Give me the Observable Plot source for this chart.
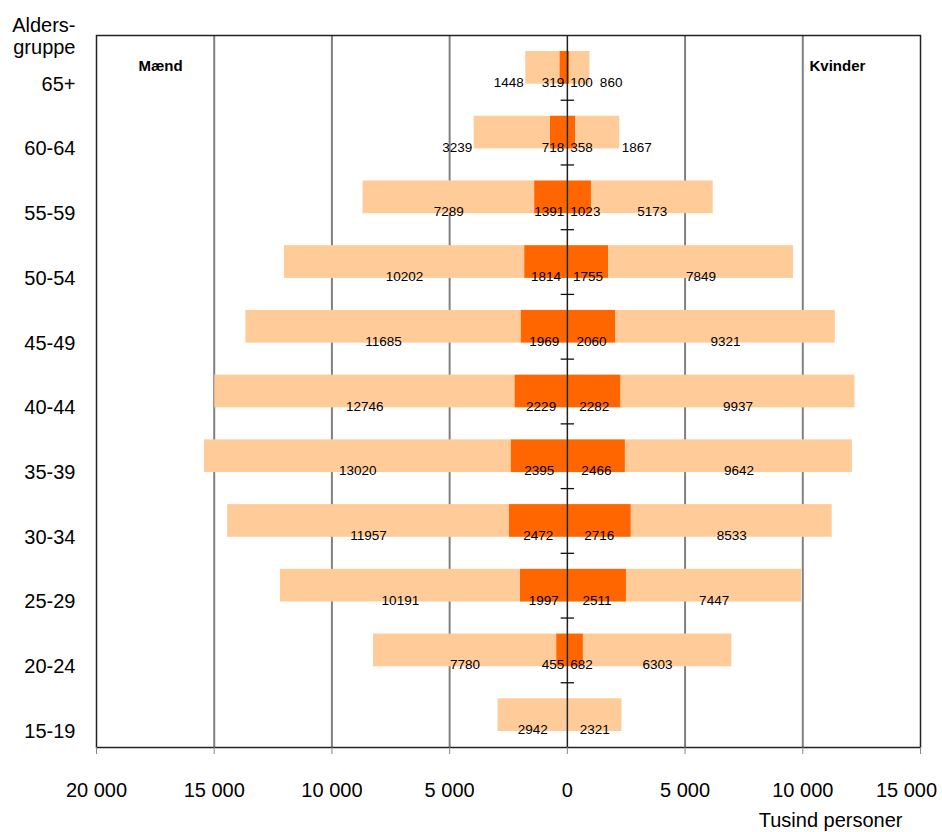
<!DOCTYPE html>
<html>
<head>
<meta charset="utf-8">
<script src="https://cdn.jsdelivr.net/npm/d3@7"></script>
<script src="https://cdn.jsdelivr.net/npm/@observablehq/plot@0.6"></script>
<style>
  body { margin: 0; background: #fff; }
  #chart svg { display: block; }
</style>
</head>
<body>
<div id="chart"></div>
<script>
// ---- data ----
const ages = ["65+", "60-64", "55-59", "50-54", "45-49", "40-44", "35-39", "30-34", "25-29", "20-24", "15-19"];
const menInner   = [319, 718, 1391, 1814, 1969, 2229, 2395, 2472, 1997, 455, 0];
const menOuter   = [1448, 3239, 7289, 10202, 11685, 12746, 13020, 11957, 10191, 7780, 2942];
const womenInner = [100, 358, 1023, 1755, 2060, 2282, 2466, 2716, 2511, 682, 0];
const womenOuter = [860, 1867, 5173, 7849, 9321, 9937, 9642, 8533, 7447, 6303, 2321];
const xTicks = [-20000, -15000, -10000, -5000, 0, 5000, 10000, 15000];
const gridValues = [-15000, -10000, -5000, 5000, 10000];

// ---- layout ----
const W = 942, H = 832, mT = 35, mB = 85, mL = 96, mR = 22;
const xDomain = [-20000, 15000];
const k = (W - mL - mR) / (xDomain[1] - xDomain[0]); // px per unit
const labelFont = 13.5;
const textW = v => String(v).length * 0.556 * labelFont;
const halfBand = (H - mT - mB) / ages.length / 2;

const bars = [];
const labels = [];
ages.forEach((age, i) => {
  [[-1, menInner[i], menOuter[i]], [1, womenInner[i], womenOuter[i]]].forEach(([s, inner, outer]) => {
    if (inner > 0) bars.push({age, x1: 0, x2: s * inner, part: "inner"});
    bars.push({age, x1: s * inner, x2: s * (inner + outer), part: "outer"});
    let edge = 0;
    if (inner > 0) {
      const w = textW(inner);
      const c = Math.max(inner * k / 2, 3 + w / 2);
      labels.push({age, x: s * c / k, text: String(inner)});
      edge = c + w / 2;
    }
    const w = textW(outer);
    let c;
    if (inner > 0 && outer < 4000) {
      const start = Math.max((inner + outer) * k + 2, edge + 7);
      c = start + w / 2;
    } else {
      c = (inner + outer / 2) * k;
    }
    labels.push({age, x: s * c / k, text: String(outer)});
  });
});

const fmt = d => Math.abs(d).toString().replace(/\B(?=(\d{3})+(?!\d))/g, " ");
const lastTick = xTicks[xTicks.length - 1];
const hline = {draw(ctx) { ctx.moveTo(-6.7, 0); ctx.lineTo(6.7, 0); }};

const chart = Plot.plot({
  width: W, height: H,
  marginTop: mT, marginBottom: mB, marginLeft: mL, marginRight: mR,
  style: {fontFamily: "'Liberation Sans', Arial, sans-serif", fontSize: "13.5px", color: "#000", background: "#fff"},
  x: {domain: xDomain},
  y: {domain: ages, padding: 0, round: false},
  color: {domain: ["inner", "outer"], range: ["#FF6600", "#FFCC99"]},
  marks: [
    Plot.ruleX(gridValues, {stroke: "#808080", strokeWidth: 2}),
    Plot.barX(bars, {y: "age", x1: "x1", x2: "x2", fill: "part", insetTop: 16, insetBottom: 16}),
    Plot.ruleX([0], {stroke: "#222", strokeWidth: 1.5}),
    Plot.dot(ages.slice(0, -1), {x: 0, y: d => d, dy: halfBand, symbol: hline, r: 5, fill: "none", stroke: "#111", strokeWidth: 1.3}),
    Plot.text(labels, {x: "x", y: "age", text: "text", dy: 19, lineAnchor: "bottom", fontSize: labelFont, fill: "#000"}),
    Plot.frame({stroke: "#222", strokeWidth: 1.5}),
    Plot.axisX({ticks: xTicks, tickFormat: d => d === lastTick ? "" : fmt(d), tickSize: 7, tickPadding: 28.5, fontSize: 20, stroke: "#888", fill: "#000", label: null}),
    Plot.text([lastTick], {x: d => d, text: fmt, frameAnchor: "bottom", textAnchor: "middle", lineAnchor: "bottom", dx: -14, dy: 49.7, fontSize: 20, fill: "#000"}),
    Plot.axisY({tickSize: 0, tickPadding: 21, dy: 16.4, fontSize: 20, fill: "#000", label: null}),
    Plot.text(["Alders-\ngruppe"], {text: d => d, frameAnchor: "top-left", textAnchor: "end", lineAnchor: "bottom", lineHeight: 1.08, dx: -21, dy: 18.3, fontSize: 20, fill: "#000"}),
    Plot.text(["Tusind personer"], {text: d => d, frameAnchor: "bottom-right", textAnchor: "end", lineAnchor: "bottom", dx: -18, dy: 79.7, fontSize: 20, fill: "#000"}),
    Plot.text(["Mænd"], {text: d => d, frameAnchor: "top-left", textAnchor: "start", lineAnchor: "bottom", dx: 42, dy: 35.7, fontSize: 15, fontWeight: "bold", fill: "#000"}),
    Plot.text(["Kvinder"], {text: d => d, frameAnchor: "top-right", textAnchor: "start", lineAnchor: "bottom", dx: -111, dy: 35, fontSize: 15, fontWeight: "bold", fill: "#000"})
  ]
});
document.getElementById("chart").appendChild(chart);
</script>
</body>
</html>
